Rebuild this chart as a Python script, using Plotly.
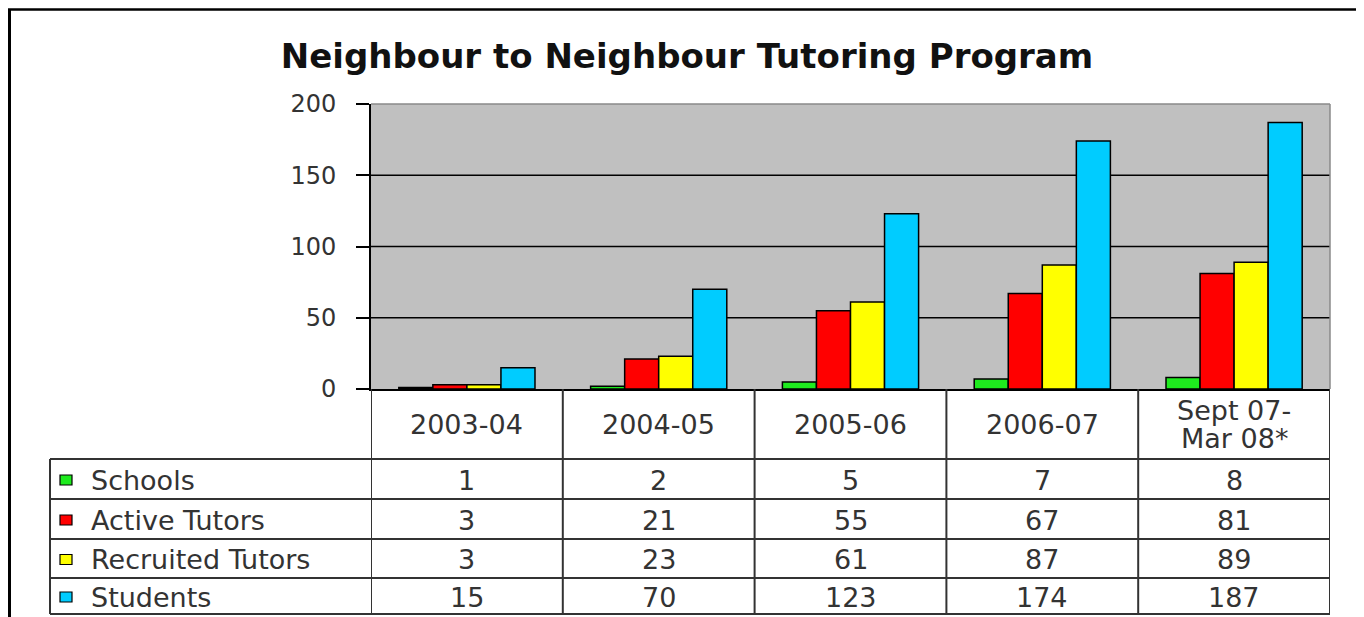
import plotly.graph_objects as go

# ---------------- data ----------------
categories = ["2003-04", "2004-05", "2005-06", "2006-07", "Sept 07-<br>Mar 08*"]
series_names = ["Schools", "Active Tutors", "Recruited Tutors", "Students"]
schools = [1, 2, 5, 7, 8]
active_tutors = [3, 21, 55, 67, 81]
recruited_tutors = [3, 23, 61, 87, 89]
students = [15, 70, 123, 174, 187]
y_ticks = [0, 50, 100, 150, 200]
title_text = "Neighbour to Neighbour Tutoring Program"

series_values = [schools, active_tutors, recruited_tutors, students]
colors = ["#1EEB1E", "#FF0000", "#FFFF00", "#00CCFF"]

# ---------------- layout helpers ----------------
OFF = 8                      # page body margin
W, H = 1356, 609             # figure size (fits window with body margin)
def px(x):                   # screen x -> paper fraction
    return (x - OFF) / W
def py(y):                   # screen y -> paper fraction
    return 1 - (y - OFF) / H

plot_left, plot_right = 371, 1330
plot_top, plot_bottom = 104, 389
table_left = 50
row_lines = [459, 499, 539, 578, 614]
font_fam = "DejaVu Sans"
text_col = "#333333"
line_col = "#333333"
table_font = 27

xcat = list(range(len(categories)))

fig = go.Figure()
for name, vals, col in zip(series_names, series_values, colors):
    fig.add_trace(go.Bar(
        x=xcat, y=vals, name=name,
        marker=dict(color=col, line=dict(color="#000000", width=1.5)),
        showlegend=False,
    ))

shapes = []
annotations = []

# gridlines at inner ticks (drawn below bars)
for t in y_ticks[1:-1]:
    shapes.append(dict(type="line", xref="x domain", yref="y", x0=0, x1=1, y0=t, y1=t,
                       line=dict(color="#000000", width=1.5), layer="below"))
# top / right border of plot area (gray)
shapes.append(dict(type="line", xref="x domain", yref="y domain", x0=0, x1=1, y0=1, y1=1,
                   line=dict(color="#8a8a8a", width=1.5)))
shapes.append(dict(type="line", xref="x domain", yref="y domain", x0=1, x1=1, y0=0, y1=1,
                   line=dict(color="#8a8a8a", width=1.5)))

# data table: vertical lines at category boundaries
for i in range(len(categories) + 1):
    shapes.append(dict(type="line", xref="x", yref="paper", x0=i - 0.5, x1=i - 0.5,
                       y0=py(row_lines[-1]), y1=py(plot_bottom),
                       line=dict(color=line_col, width=2)))
# left edge of legend column
shapes.append(dict(type="line", xref="paper", yref="paper", x0=px(table_left), x1=px(table_left),
                   y0=py(row_lines[-1]), y1=py(row_lines[0]), line=dict(color=line_col, width=2)))
# horizontal lines
for r in row_lines:
    shapes.append(dict(type="line", xref="paper", yref="paper", x0=px(table_left), x1=px(plot_right),
                       y0=py(r), y1=py(r), line=dict(color=line_col, width=2)))

# header cells (multi-line labels split into separate lines)
for i, c in enumerate(categories):
    lines = c.split("<br>")
    n = len(lines)
    for j, ln in enumerate(lines):
        yc = 424 + (j - (n - 1) / 2) * 28
        annotations.append(dict(x=i, y=py(yc), xref="x", yref="paper", text=ln, showarrow=False,
                                xanchor="center", yanchor="middle",
                                font=dict(family=font_fam, size=table_font, color=text_col)))
# rows
for k, (name, vals, col) in enumerate(zip(series_names, series_values, colors)):
    yc = (row_lines[k] + row_lines[k + 1]) / 2 + 1
    shapes.append(dict(type="rect", xref="paper", yref="paper", x0=px(60), x1=px(72),
                       y0=py(yc + 5), y1=py(yc - 5), fillcolor=col,
                       line=dict(color="#000000", width=1.2)))
    annotations.append(dict(x=px(89), y=py(yc), xref="paper", yref="paper", text=name,
                            showarrow=False, xanchor="left", yanchor="middle",
                            font=dict(family=font_fam, size=table_font, color=text_col)))
    for i, v in enumerate(vals):
        annotations.append(dict(x=i, y=py(yc), xref="x", yref="paper", text=str(v),
                                showarrow=False, xanchor="center", yanchor="middle",
                                font=dict(family=font_fam, size=table_font, color=text_col)))

# outer frame (left and top)
shapes.append(dict(type="line", xref="paper", yref="paper", x0=px(9.5), x1=px(9.5), y0=0, y1=py(9),
                   line=dict(color="#000000", width=3)))
shapes.append(dict(type="line", xref="paper", yref="paper", x0=px(8), x1=1, y0=py(9.5), y1=py(9.5),
                   line=dict(color="#000000", width=2.5)))

fig.update_layout(
    width=W, height=H,
    margin=dict(l=0, r=0, t=0, b=0, autoexpand=False),
    paper_bgcolor="#FFFFFF",
    plot_bgcolor="#C0C0C0",
    barmode="group", bargap=0.29, bargroupgap=0,
    title=dict(text="<b>" + title_text + "</b>", x=px(687), y=py(56),
               xanchor="center", yanchor="middle", xref="paper", yref="paper",
               font=dict(family=font_fam, size=34, color="#111111")),
    xaxis=dict(domain=[px(plot_left), px(plot_right)], range=[-0.5, len(categories) - 0.5],
               showticklabels=False, ticks="", showgrid=False, zeroline=False, automargin=False,
               showline=True, linecolor="#000000", linewidth=2, fixedrange=True),
    yaxis=dict(domain=[py(plot_bottom), py(plot_top)], range=[0, 200],
               tickvals=y_ticks, ticktext=[str(t) for t in y_ticks],
               ticks="outside", ticklen=13, tickwidth=1.5, tickcolor="#000000",
               ticklabelstandoff=15, automargin=False,
               tickfont=dict(family=font_fam, size=24, color=text_col),
               showgrid=False, zeroline=False,
               showline=True, linecolor="#000000", linewidth=2, fixedrange=True),
    shapes=shapes,
    annotations=annotations,
    showlegend=False,
)

fig.write_html("out.html")
